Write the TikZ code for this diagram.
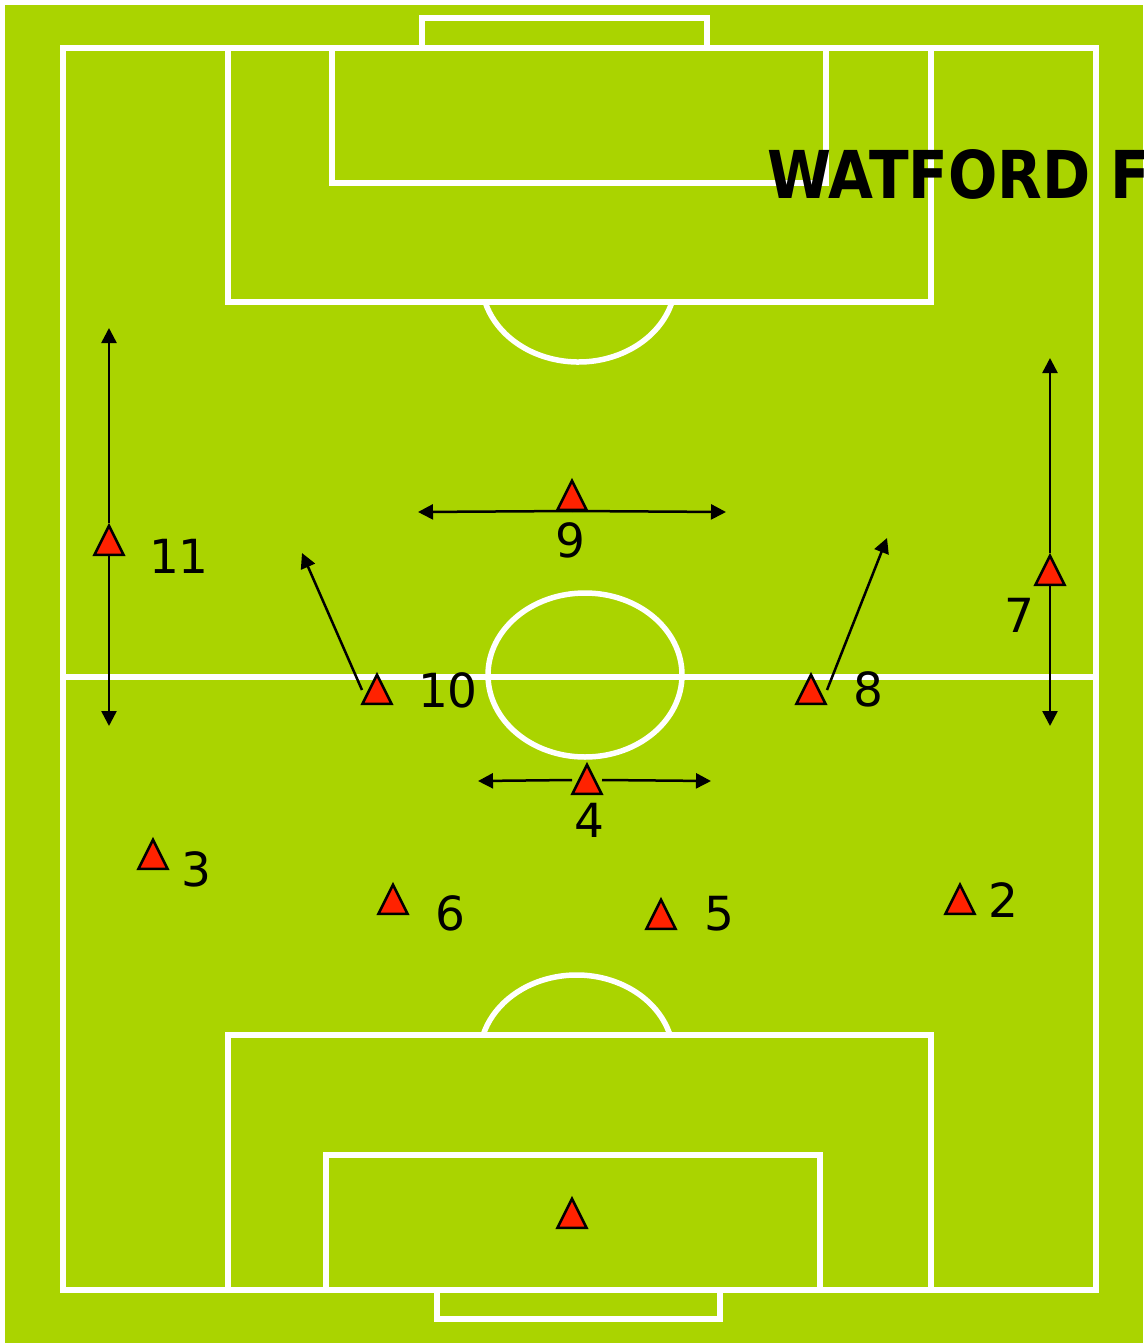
\documentclass[tikz,border=0pt]{standalone}
\usepackage{fontspec}
\setmainfont{DejaVu Sans}
\newfontfamily\titlefont{DejaVu Sans}[FakeStretch=0.88]
\definecolor{PitchGreen}{HTML}{AAD400}
\definecolor{ShirtRed}{HTML}{FF2200}
\usetikzlibrary{positioning, arrows.meta, shapes.geometric}

\begin{document}
\begin{tikzpicture}[
  x=1pt, y=-1pt,
  line/.style={draw=white, line width=5.5pt},
  player/.style={isosceles triangle, isosceles triangle apex angle=53.13,
    shape border rotate=90, minimum width=29pt, minimum height=29pt,
    inner sep=0pt, fill=ShirtRed, draw=black, line width=2.5pt, anchor=lower side},
  num/.style={font=\fontsize{47}{50}\selectfont, inner sep=0pt},
  run/.style={draw=black, line width=2.5pt, -{Triangle[length=15pt, width=15pt]}},
]
  \path[fill=white] (0,0) rectangle (1143,1343);
  \useasboundingbox (0,0) rectangle (1143,1343);
  \fill[PitchGreen] (5,5) rectangle (1143,1343);
  % Pitch markings
  \draw[line] (63,48) rectangle (1096,1290);
  \draw[line] (63,677) -- (1096,677);
  \draw[line] (585,675) ellipse [x radius=97, y radius=82];
  \draw[line] (422,18) rectangle (707,48);
  \draw[line] (228,48) rectangle (931,302);
  \draw[line] (332,48) rectangle (826,183);
  \draw[line] (672,302) arc[start angle=15.56, end angle=164.44, x radius=97, y radius=82];
  \draw[line] (437,1290) rectangle (720,1319);
  \draw[line] (228,1035) rectangle (931,1290);
  \draw[line] (326,1155) rectangle (820,1290);
  \draw[line] (670,1035) arc[start angle=-15.56, end angle=-164.44, x radius=97, y radius=82];
  % Title
  \node[font=\titlefont\fontsize{66}{70}\selectfont\bfseries, inner sep=0pt, anchor=base west]
    (title) at (767,198) {WATFORD F};
  % Players
  \node[player] (p11) at (109,556) {};
  \node[player] (p9) at (572,511) {};
  \node[player] (p10) at (377,705) {};
  \node[player] (p8) at (811,705) {};
  \node[player] (p7) at (1050,586) {};
  \node[player] (p4) at (587,795) {};
  \node[player] (p3) at (153,870) {};
  \node[player] (p6) at (393,915) {};
  \node[player] (p5) at (661,930) {};
  \node[player] (p2) at (960,915) {};
  \node[player] (p1) at (572,1229) {};
  % Shirt numbers
  \node[num] (n11) at (179,556) {11};
  \node[num] (n9) at (570,540) {9};
  \node[num] (n10) at (448,690) {10};
  \node[num] (n8) at (868,689) {8};
  \node[num] (n7) at (1019,615) {7};
  \node[num] (n4) at (589,820) {4};
  \node[num] (n3) at (196,869) {3};
  \node[num] (n6) at (450,913) {6};
  \node[num] (n5) at (719,914) {5};
  \node[num] (n2) at (1003,900) {2};
  % Runs
  \coordinate (r11a) at (109,328);
  \coordinate (r11b) at (109,726);
  \coordinate (r9a) at (418,512);
  \coordinate (r9b) at (726,512);
  \coordinate (r10) at (302,553);
  \coordinate (r8) at (887,538);
  \coordinate (r7a) at (1050,358);
  \coordinate (r7b) at (1050,726);
  \coordinate (r4a) at (478,781);
  \coordinate (r4b) at (711,781);
  \draw[run] (p11.apex) -- (r11a);
  \draw[run] (p11.lower side) -- (r11b);
  \draw[run] (p9.lower side) -- (r9a);
  \draw[run] (p9.lower side) -- (r9b);
  \draw[run] ([shift={(-15,-15)}]p10.lower side) -- (r10);
  \draw[run] ([shift={(16,-15)}]p8.lower side) -- (r8);
  \draw[run] (p7.apex) -- (r7a);
  \draw[run] (p7.lower side) -- (r7b);
  \draw[run] ([shift={(-15,-15)}]p4.lower side) -- (r4a);
  \draw[run] ([shift={(15,-15)}]p4.lower side) -- (r4b);
\end{tikzpicture}
\end{document}
